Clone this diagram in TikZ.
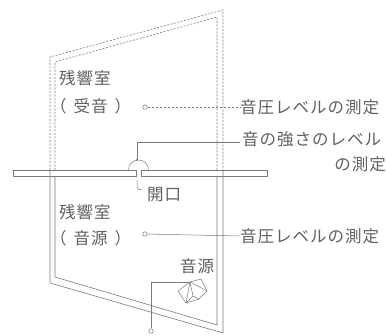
\documentclass[tikz,border=0pt]{standalone}
\usepackage{fontspec}
\newfontfamily\jp[LetterSpace=6]{Noto Sans CJK JP}
\definecolor{ink}{HTML}{7A7A7A}
\definecolor{txt}{HTML}{606060}
\begin{document}
\begin{tikzpicture}[x=1pt,y=-1pt,
  wall/.style={draw=ink,line width=0.6pt},
  dwall/.style={draw=ink,line width=0.6pt,dash pattern=on 2pt off 1.5pt},
  lead/.style={draw=ink,line width=0.5pt},
  dlead/.style={draw=ink,line width=0.5pt,dash pattern=on 2pt off 2pt},
  lbl/.style={font=\jp\fontsize{16.5}{16.5}\selectfont,text=txt,inner sep=0pt,anchor=west},
  probe/.style={circle,draw=ink,line width=0.5pt,fill=white,inner sep=0pt,minimum size=4.5pt}]
\useasboundingbox (0,0) rectangle (386,336);

% receiving room (dashed double walls)
\draw[dwall] (50,170) -- (50,57) -- (223,10) -- (223,170);
\draw[dwall] (55,170) -- (55,62) -- (217,17) -- (217,170);

% source room (solid double walls)
\draw[wall] (50,170) -- (50,283) -- (223,333) -- (223,170);
\draw[wall] (55,176) -- (55,277) -- (217,325) -- (217,176);

% partition with opening
\draw[wall] (13,170) rectangle (136,176);
\draw[wall] (141,170) rectangle (267,176);

% measuring surface over the opening
\draw[lead] (128.5,170) .. controls (128.5,156.7) and (148.5,156.7) .. (148.5,170);

% room labels
\node[lbl] (r1) at (59,78) {残響室};
\node[lbl] (r1b) at (50,106) {（\kern7pt 受音\kern7pt）};
\node[lbl] (r2) at (59,212) {残響室};
\node[lbl] (r2b) at (50,238) {（\kern7pt 音源\kern7pt）};

% measurement notes
\node[lbl] (m1) at (240,107) {音圧レベルの測定};
\node[lbl] (m2) at (242,139) {音の強さのレベル};
\node[lbl,anchor=east] (m2b) at (386,164) {の測定};
\node[lbl] (m3) at (240,236) {音圧レベルの測定};
\node[lbl] (op) at (147,195) {開口};
\node[lbl] (sr) at (180,266) {音源};

% measuring points
\node[probe] (p1) at (145,107) {};
\node[probe] (p2) at (145,234) {};
\coordinate (c2) at (137,142);
\coordinate (c2e) at (240,142);
\coordinate (top) at (137,160);
\draw[dlead] (p1) -- (m1.west);
\draw[lead] (p2) -- (m3.west);
\draw[lead] (c2e) -- (c2) -- (top);
\fill[ink] (top) circle (1pt);

% opening leader
\coordinate (o1) at (137,180);
\coordinate (o2) at (142,190);
\draw[lead] (o1) -- (137,187) .. controls (137,189) and (139,190) .. (o2);

% sound source
\coordinate (s1) at (178,291);
\coordinate (s2) at (190,282);
\coordinate (s3) at (201,279);
\coordinate (s4) at (207,291);
\coordinate (s5) at (199,299);
\coordinate (s6) at (186,303);
\draw[lead] (s1) -- (s2) -- (s3) -- (s4) -- (s5) -- (s6) -- cycle;
\draw[lead] (s2) -- (s6);
\draw[lead] (s2) -- (s4);
\draw[lead] (s2) -- (193,296) -- (s5);
\draw[lead] (193,296) -- (s6);
\node[probe] (p3) at (151,331) {};
\draw[lead] (s2) -| (p3);
\end{tikzpicture}
\end{document}
